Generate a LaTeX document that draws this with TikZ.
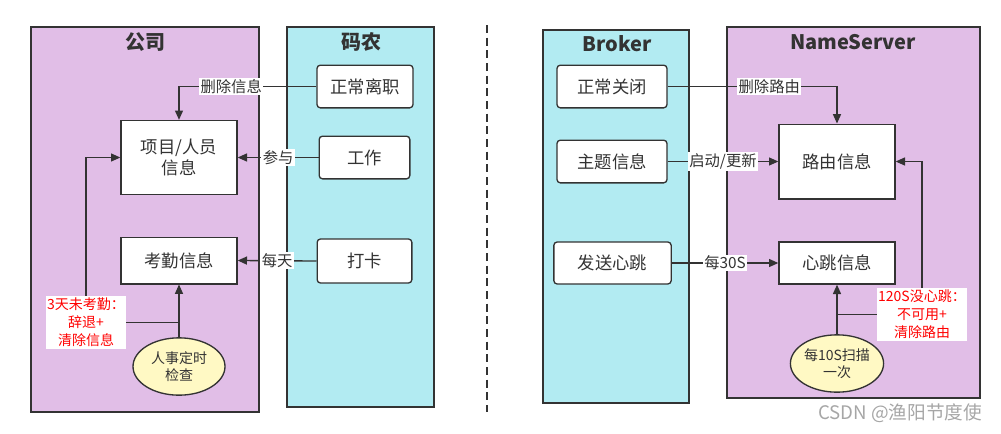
\documentclass[tikz,border=0pt]{standalone}
\usepackage{fontspec}
\setmainfont{Noto Sans CJK SC}
\usepackage{xcolor}
\usetikzlibrary{shapes.geometric, arrows.meta}

\definecolor{lilac}{HTML}{E1BEE7}
\definecolor{aqua}{HTML}{B2EBF2}
\definecolor{cream}{HTML}{FFF9C4}
\definecolor{ink}{HTML}{333333}

\begin{document}
\begin{tikzpicture}[x=0.75pt, y=-0.75pt,
		panel/.style={draw=ink, line width=1.1pt},
		title/.style={font=\fontsize{15}{18}\selectfont\bfseries, text=ink},
		act/.style={draw=ink, fill=white, rounded corners=2.5pt, line width=1pt, text=ink,
			font=\fontsize{13}{16}\selectfont, align=center},
		info/.style={draw=ink, fill=white, line width=1pt, text=ink,
			font=\fontsize{13}{16}\selectfont, align=center},
		timer/.style={ellipse, draw=ink, fill=cream, line width=1pt, text=ink, inner sep=0pt,
			minimum width=69pt, minimum height=43pt,
			font=\fontsize{10.5}{12.75}\selectfont, align=center},
		note/.style={fill=white, text=red, inner sep=0pt, align=center,
			font=\fontsize{10.5}{13.5}\selectfont},
		lab/.style={fill=white, text=ink, inner sep=1pt, font=\fontsize{11.5}{14}\selectfont},
		arr/.style={draw=ink, line width=1pt, -{Triangle[length=7pt, width=6pt]}},
		wire/.style={draw=ink, line width=1pt}]
	\useasboundingbox (0,0) rectangle (1001,433);

	% left half: company and coder
	\draw[panel, fill=lilac] (31,27) rectangle (259,412);
	\draw[panel, fill=aqua] (287,27) rectangle (434,407);
	\node[title] (gongsi) at (145,42) {公司};
	\node[title] (manong) at (361,42) {码农};

	\node[act, minimum width=72pt, minimum height=32pt] (lizhi) at (365,86.5) {正常离职};
	\node[act, minimum width=68pt, minimum height=32pt] (gongzuo) at (364.5,157.5) {工作};
	\node[act, minimum width=71pt, minimum height=33pt] (daka) at (364.5,261) {打卡};

	\node[info, minimum width=87pt, minimum height=55.5pt] (xiangmu) at (179,157.5) {项目/人员\\信息};
	\node[info, minimum width=87pt, minimum height=35pt] (kaoqin) at (179,260.5) {考勤信息};
	\node[timer] (renshi) at (179,366.5) {人事定时\\检查};
	\node[note, minimum width=60pt, minimum height=40pt] (cizhi) at (86,322.5) {3天未考勤：\\辞退+\\清除信息};

	\draw[arr] (lizhi.west) -| node[lab, pos=0.31] {删除信息} (xiangmu.north);
	\draw[arr] (gongzuo.west) -- node[lab] {参与} (xiangmu.east);
	\draw[arr] (daka.west) -- node[lab] {每天} (kaoqin.east);
	\draw[arr] (renshi.north) -- (kaoqin.south);
	\draw[wire] (cizhi.east) -- (cizhi.east -| renshi.north);
	\draw[arr] (cizhi.north) |- (xiangmu.west);

	% divider
	\draw[ink, line width=1.2pt, dash pattern=on 6pt off 3.5pt] (487,25) -- (487,412);

	% right half: broker and nameserver
	\draw[panel, fill=aqua] (543,30) rectangle (689,403);
	\draw[panel, fill=lilac] (727,27) rectangle (980,398);
	\node[title] (broker) at (617,44) {Broker};
	\node[title] (nameserver) at (853,42) {NameServer};

	\node[act, minimum width=82.5pt, minimum height=32pt] (guanbi) at (612,86.5) {正常关闭};
	\node[act, minimum width=82.5pt, minimum height=32pt] (zhuti) at (612,161.5) {主题信息};
	\node[act, minimum width=88pt, minimum height=31.5pt] (fasong) at (612.5,263) {发送心跳};

	\node[info, minimum width=87pt, minimum height=56pt] (luyou) at (837,161.5) {路由信息};
	\node[info, minimum width=87pt, minimum height=31.5pt] (xintiao) at (837,263) {心跳信息};
	\node[timer] (saomiao) at (837,363.5) {每10S扫描\\一次};
	\node[note, minimum width=67.5pt, minimum height=40pt] (bukeyong) at (922,314.5) {120S没心跳：\\不可用+\\清除路由};

	\draw[arr] (guanbi.east) -| node[lab, pos=0.3] {删除路由} (luyou.north);
	\draw[arr] (zhuti.east) -- node[lab] {启动/更新} (luyou.west);
	\draw[arr] (fasong.east) -- node[lab] {每30S} (xintiao.west);
	\draw[arr] (saomiao.north) -- (xintiao.south);
	\draw[wire] (bukeyong.west) -- (bukeyong.west -| saomiao.north);
	\draw[arr] (bukeyong.north) |- (luyou.east);

	\node[anchor=east, text=black!35, font=\fontsize{14}{16}\selectfont] (csdn) at (987,413) {CSDN @渔阳节度使};
\end{tikzpicture}
\end{document}
